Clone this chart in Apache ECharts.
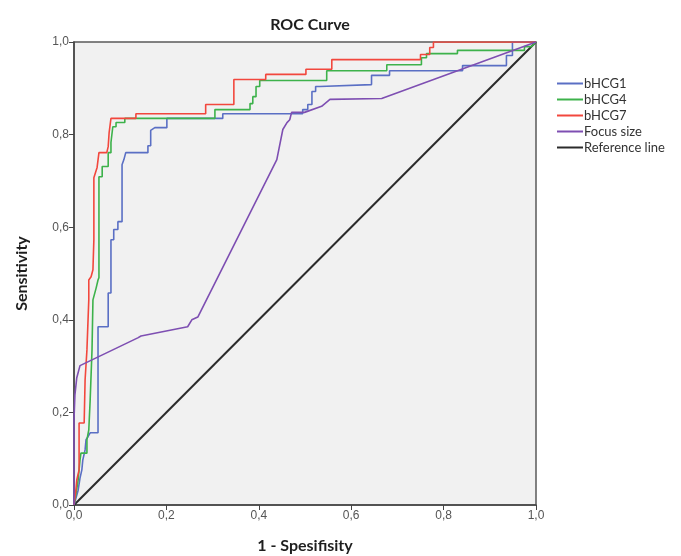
<!DOCTYPE html>
<html>
<head>
<meta charset="utf-8">
<script src="https://cdn.jsdelivr.net/npm/echarts@6/dist/echarts.min.js"></script>
<style>
  html, body { margin: 0; padding: 0; background: #fff; }
  #chart { width: 681px; height: 556px; }
</style>
</head>
<body>
<div id="chart"></div>
<script>
// ROC points, [1 - specificity, sensitivity]
const bhcg1 = [
  [0, 0], [0.009, 0.032], [0.013, 0.058], [0.017, 0.076], [0.019, 0.097], [0.024, 0.119],
  [0.026, 0.141], [0.030, 0.147], [0.035, 0.156], [0.052, 0.156], [0.052, 0.385],
  [0.074, 0.385], [0.074, 0.458], [0.080, 0.458], [0.080, 0.573], [0.086, 0.573],
  [0.086, 0.595], [0.095, 0.595], [0.095, 0.612], [0.104, 0.612], [0.104, 0.735],
  [0.108, 0.746], [0.112, 0.761], [0.160, 0.761], [0.160, 0.776], [0.166, 0.776],
  [0.166, 0.809], [0.175, 0.815], [0.201, 0.815], [0.201, 0.835], [0.322, 0.835],
  [0.322, 0.845], [0.495, 0.845], [0.495, 0.854], [0.506, 0.854], [0.506, 0.865],
  [0.515, 0.865], [0.515, 0.893], [0.523, 0.893], [0.523, 0.904], [0.532, 0.904],
  [0.532, 0.908], [0.644, 0.908], [0.644, 0.928], [0.683, 0.928], [0.683, 0.938],
  [0.841, 0.938], [0.841, 0.949], [0.936, 0.949], [0.936, 0.971], [0.949, 0.971],
  [0.949, 1.0], [1, 1]
];
const bhcg4 = [
  [0, 0], [0.004, 0.022], [0.009, 0.054], [0.013, 0.097], [0.015, 0.112], [0.028, 0.112],
  [0.028, 0.141], [0.032, 0.162], [0.035, 0.227], [0.039, 0.335], [0.041, 0.443],
  [0.048, 0.469], [0.052, 0.486], [0.054, 0.491], [0.054, 0.709], [0.061, 0.709],
  [0.061, 0.731], [0.074, 0.731], [0.074, 0.761], [0.080, 0.761], [0.080, 0.783],
  [0.084, 0.783], [0.084, 0.817], [0.091, 0.817], [0.091, 0.826], [0.110, 0.826],
  [0.110, 0.835], [0.305, 0.835], [0.305, 0.854], [0.381, 0.854], [0.381, 0.867],
  [0.387, 0.867], [0.387, 0.882], [0.394, 0.882], [0.394, 0.904], [0.402, 0.904],
  [0.402, 0.917], [0.547, 0.917], [0.547, 0.938], [0.677, 0.938], [0.677, 0.951],
  [0.752, 0.951], [0.752, 0.966], [0.763, 0.966], [0.763, 0.975], [0.830, 0.975],
  [0.830, 0.982], [0.975, 0.982], [0.975, 0.990], [0.990, 0.990], [1, 1]
];
const bhcg7 = [
  [0, 0], [0.004, 0.032], [0.006, 0.054], [0.011, 0.076], [0.011, 0.177], [0.022, 0.177],
  [0.024, 0.270], [0.028, 0.335], [0.032, 0.443], [0.032, 0.486], [0.037, 0.493],
  [0.041, 0.508], [0.043, 0.573], [0.043, 0.707], [0.050, 0.729], [0.054, 0.761],
  [0.071, 0.761], [0.074, 0.774], [0.076, 0.804], [0.080, 0.835], [0.134, 0.835],
  [0.134, 0.845], [0.285, 0.845], [0.285, 0.865], [0.346, 0.865], [0.346, 0.919],
  [0.415, 0.919], [0.415, 0.930], [0.502, 0.930], [0.502, 0.941], [0.558, 0.941],
  [0.558, 0.962], [0.750, 0.962], [0.750, 0.973], [0.770, 0.973], [0.770, 0.988],
  [0.778, 0.988], [0.778, 1.0], [1, 1]
];
const focusSize = [
  [0, 0], [0, 0.184], [0.002, 0.238], [0.006, 0.275], [0.013, 0.301], [0.138, 0.361],
  [0.145, 0.365], [0.246, 0.385], [0.255, 0.400], [0.268, 0.406], [0.439, 0.746],
  [0.452, 0.811], [0.461, 0.826], [0.467, 0.832], [0.471, 0.848], [0.499, 0.848],
  [0.536, 0.861], [0.554, 0.876], [0.666, 0.878], [1, 1]
];
const referenceLine = [[0, 0], [1, 1]];

const seriesNames = ['bHCG1', 'bHCG4', 'bHCG7', 'Focus size', 'Reference line'];
const seriesData = [bhcg1, bhcg4, bhcg7, focusSize, referenceLine];
const colors = ['#5a6fc4', '#3db24b', '#f2473d', '#7e4fb2', '#2b2b2b'];

const chart = echarts.init(document.getElementById('chart'));

const fmt = v => v.toFixed(1).replace('.', ',');

chart.setOption({
  animation: false,
  backgroundColor: '#ffffff',
  title: {
    text: 'ROC Curve',
    left: 305,
    textAlign: 'center',
    top: 12,
    textStyle: { fontFamily: 'Lato', fontWeight: 'bold', fontSize: 16, color: '#1e1e1e' }
  },
  legend: {
    orient: 'vertical',
    left: 552,
    top: 72,
    itemGap: 3,
    itemWidth: 26,
    itemHeight: 2,
    icon: 'rect',
    data: seriesNames,
    textStyle: { fontFamily: 'Lato', fontSize: 13, color: '#333', padding: [0, 0, 0, -4] }
  },
  grid: {
    left: 74, right: 145, top: 42, bottom: 51,
    outerBoundsMode: 'none',
    containLabel: false,
    show: true,
    backgroundColor: '#f1f1f1',
    borderColor: '#5a5a5a',
    borderWidth: 1.5
  },
  xAxis: {
    type: 'value', min: 0, max: 1, interval: 0.2,
    name: '1 - Spesifisity',
    nameLocation: 'middle',
    nameGap: 33,
    nameTextStyle: { fontFamily: 'Lato', fontWeight: 'bold', fontSize: 16, color: '#1e1e1e' },
    axisLine: { lineStyle: { color: '#444', width: 1.5 } },
    axisTick: { show: true, length: 5, lineStyle: { color: '#444' } },
    axisLabel: { formatter: fmt, color: '#555', fontSize: 12, fontFamily: 'Liberation Sans', margin: 5 },
    splitLine: { show: false }
  },
  yAxis: {
    type: 'value', min: 0, max: 1, interval: 0.2,
    name: 'Sensitivity',
    nameLocation: 'middle',
    nameGap: 44,
    nameTextStyle: { fontFamily: 'Lato', fontWeight: 'bold', fontSize: 16, color: '#1e1e1e' },
    axisLine: { lineStyle: { color: '#444', width: 1.5 } },
    axisTick: { show: true, length: 5, lineStyle: { color: '#444' } },
    axisLabel: { formatter: fmt, color: '#555', fontSize: 12, fontFamily: 'Liberation Sans', margin: 5 },
    splitLine: { show: false }
  },
  series: seriesData.map((d, i) => ({
    name: seriesNames[i],
    type: 'line',
    data: d,
    showSymbol: false,
    symbol: 'none',
    color: colors[i],
    lineStyle: { color: colors[i], width: i === 4 ? 2 : 1.6 },
    z: i === 4 ? 1 : 2
  }))
});
</script>
</body>
</html>
